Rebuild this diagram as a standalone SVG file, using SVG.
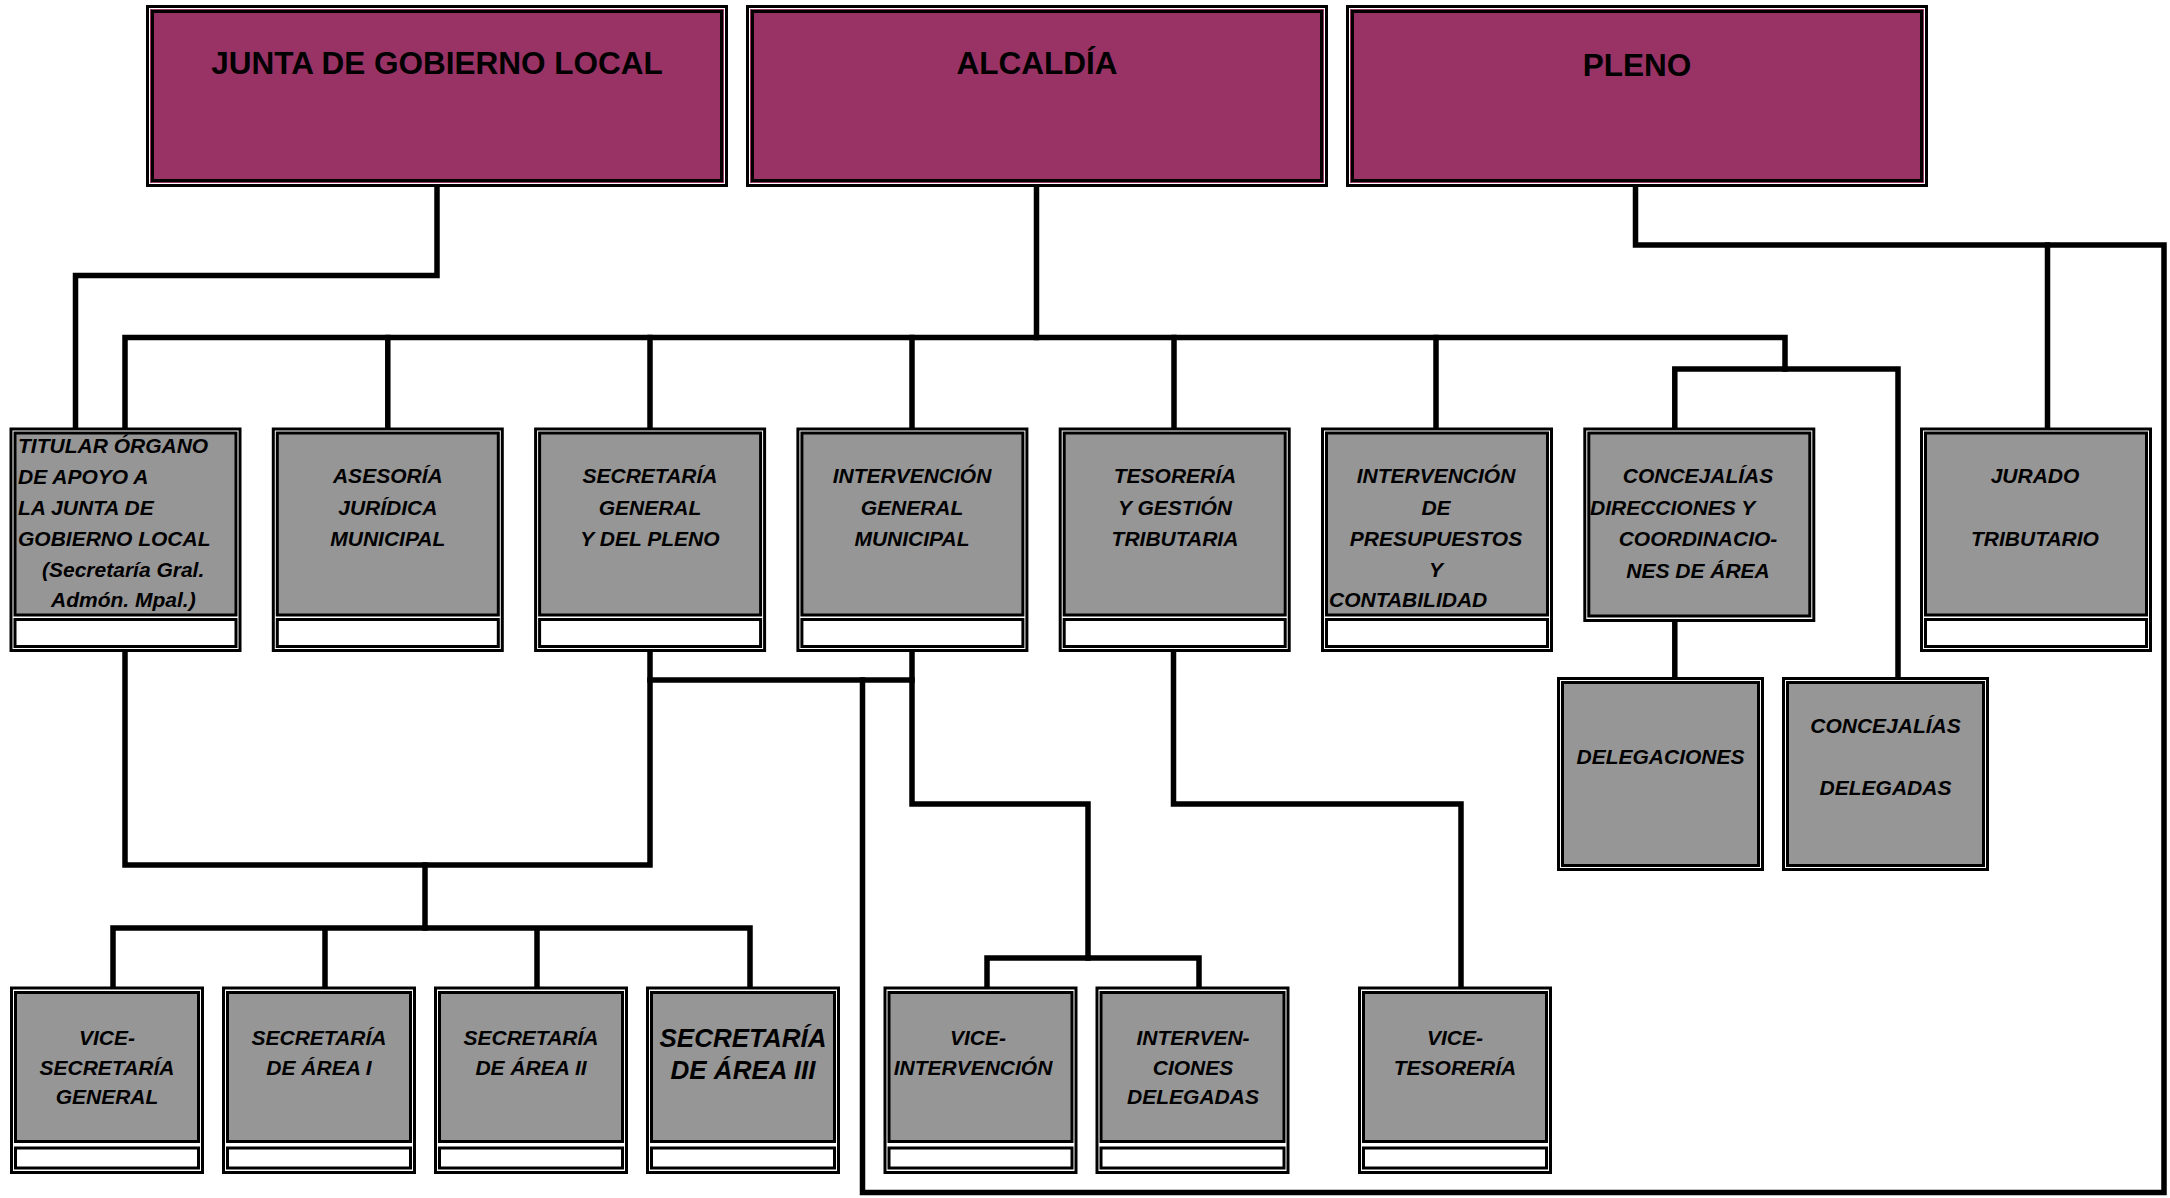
<svg xmlns="http://www.w3.org/2000/svg" width="2170" height="1198" viewBox="0 0 2170 1198">
<style>
.bg{fill:#fff}
.c{fill:none;stroke:#000;stroke-width:5.5;stroke-linecap:square;stroke-linejoin:miter}
.po{fill:#993366;stroke:#000;stroke-width:3}
.pw{fill:none;stroke:#fff;stroke-width:1}
.o{fill:#fff;stroke:#000;stroke-width:3}
.g{fill:#969696;stroke:#000;stroke-width:3}
.s{fill:#fff;stroke:#000;stroke-width:3}
.h{font-family:"Liberation Sans",Arial,sans-serif;font-weight:bold;font-size:31.5px;fill:#000;text-anchor:middle}
.t{font-family:"Liberation Sans",Arial,sans-serif;font-weight:bold;font-style:italic;font-size:21px;fill:#000;text-anchor:middle}
.l{text-anchor:start}
.big{font-size:26px}
</style>
<rect class="bg" x="0" y="0" width="2170" height="1198"/>

<g id="connectors">
<path class="c" d="M437,187 V275.5 H75.5 V428"/>
<path class="c" d="M1036.5,187 V337.5"/>
<path class="c" d="M125,428 V337.5 H1785 V369"/>
<path class="c" d="M387.8,337.5 V428 M650,337.5 V428 M912,337.5 V428 M1174,337.5 V428 M1436,337.5 V428"/>
<path class="c" d="M1674.8,428 V369 H1898 V677"/>
<path class="c" d="M1674.8,622 V677"/>
<path class="c" d="M1635.5,187 V245 H2164 V1192.5 H862.5 V680"/>
<path class="c" d="M2047.5,245 V428"/>
<path class="c" d="M125,652 V865 H650 V652"/>
<path class="c" d="M425,865 V928"/>
<path class="c" d="M113,986.5 V928 H750 V986.5 M325,928 V986.5 M537,928 V986.5"/>
<path class="c" d="M650,680 H912"/>
<path class="c" d="M912,652 V804 H1088 V958"/>
<path class="c" d="M987,986.5 V958 H1199 V986.5"/>
<path class="c" d="M1173.5,652 V804 H1461 V986.5"/>
</g>

<g id="n-junta">
<rect class="po" x="147.5" y="6.5" width="579" height="179"/>
<rect class="pw" x="149.5" y="8.5" width="575" height="175"/>
<rect class="po" x="152.5" y="11.5" width="569" height="169"/>
<text class="h" x="437" y="74">JUNTA DE GOBIERNO LOCAL</text>
</g>
<g id="n-alcaldia">
<rect class="po" x="747.5" y="6.5" width="579" height="179"/>
<rect class="pw" x="749.5" y="8.5" width="575" height="175"/>
<rect class="po" x="752.5" y="11.5" width="569" height="169"/>
<text class="h" x="1037" y="74">ALCALDÍA</text>
</g>
<g id="n-pleno">
<rect class="po" x="1347.5" y="6.5" width="579" height="179"/>
<rect class="pw" x="1349.5" y="8.5" width="575" height="175"/>
<rect class="po" x="1352.5" y="11.5" width="569" height="169"/>
<text class="h" x="1637" y="76">PLENO</text>
</g>

<g id="n-titular">
<rect class="o" x="11" y="429" width="229" height="221.5"/>
<rect class="g" x="15" y="433" width="221" height="182"/>
<rect class="s" x="15" y="619.5" width="221" height="27"/>
<text class="t l" x="18" y="453">TITULAR ÓRGANO</text>
<text class="t l" x="18" y="484">DE APOYO A</text>
<text class="t l" x="18" y="515">LA JUNTA DE</text>
<text class="t l" x="18" y="546">GOBIERNO LOCAL</text>
<text class="t l" x="42" y="577">(Secretaría Gral.</text>
<text class="t l" x="51" y="607">Admón. Mpal.)</text>
</g>
<g id="n-asesoria">
<rect class="o" x="273.3" y="429" width="229" height="221.5"/>
<rect class="g" x="277.3" y="433" width="221" height="182"/>
<rect class="s" x="277.3" y="619.5" width="221" height="27"/>
<text class="t" x="387.8" y="483">ASESORÍA</text>
<text class="t" x="387.8" y="515">JURÍDICA</text>
<text class="t" x="387.8" y="546">MUNICIPAL</text>
</g>
<g id="n-secretaria">
<rect class="o" x="535.6" y="429" width="229" height="221.5"/>
<rect class="g" x="539.6" y="433" width="221" height="182"/>
<rect class="s" x="539.6" y="619.5" width="221" height="27"/>
<text class="t" x="650" y="483">SECRETARÍA</text>
<text class="t" x="650" y="515">GENERAL</text>
<text class="t" x="650" y="546">Y DEL PLENO</text>
</g>
<g id="n-intervencion">
<rect class="o" x="797.9" y="429" width="229" height="221.5"/>
<rect class="g" x="801.9" y="433" width="221" height="182"/>
<rect class="s" x="801.9" y="619.5" width="221" height="27"/>
<text class="t" x="912" y="483">INTERVENCIÓN</text>
<text class="t" x="912" y="515">GENERAL</text>
<text class="t" x="912" y="546">MUNICIPAL</text>
</g>
<g id="n-tesoreria">
<rect class="o" x="1060.2" y="429" width="229" height="221.5"/>
<rect class="g" x="1064.2" y="433" width="221" height="182"/>
<rect class="s" x="1064.2" y="619.5" width="221" height="27"/>
<text class="t" x="1175" y="483">TESORERÍA</text>
<text class="t" x="1175" y="515">Y GESTIÓN</text>
<text class="t" x="1175" y="546">TRIBUTARIA</text>
</g>
<g id="n-presupuestos">
<rect class="o" x="1322.5" y="429" width="229" height="221.5"/>
<rect class="g" x="1326.5" y="433" width="221" height="182"/>
<rect class="s" x="1326.5" y="619.5" width="221" height="27"/>
<text class="t" x="1436" y="483">INTERVENCIÓN</text>
<text class="t" x="1436" y="515">DE</text>
<text class="t" x="1436" y="546">PRESUPUESTOS</text>
<text class="t" x="1436" y="577">Y</text>
<text class="t l" x="1329" y="607">CONTABILIDAD</text>
</g>
<g id="n-concejalias">
<rect class="o" x="1584.8" y="429" width="229" height="191.5"/>
<rect class="g" x="1588.8" y="433" width="221" height="183"/>
<text class="t" x="1698" y="483">CONCEJALÍAS</text>
<text class="t l" x="1590" y="515">DIRECCIONES Y</text>
<text class="t" x="1698" y="546">COORDINACIO-</text>
<text class="t" x="1698" y="578">NES DE ÁREA</text>
</g>
<g id="n-jurado">
<rect class="o" x="1921.5" y="429" width="229" height="221.5"/>
<rect class="g" x="1925.5" y="433" width="221" height="182"/>
<rect class="s" x="1925.5" y="619.5" width="221" height="27"/>
<text class="t" x="2035" y="483">JURADO</text>
<text class="t" x="2035" y="546">TRIBUTARIO</text>
</g>

<g id="n-delegaciones">
<rect class="o" x="1558.5" y="678.5" width="204" height="191"/>
<rect class="g" x="1562.5" y="682.5" width="196" height="183"/>
<text class="t" x="1660.5" y="764">DELEGACIONES</text>
</g>
<g id="n-delegadas">
<rect class="o" x="1783.5" y="678.5" width="204" height="191"/>
<rect class="g" x="1787.5" y="682.5" width="196" height="183"/>
<text class="t" x="1885.5" y="733">CONCEJALÍAS</text>
<text class="t" x="1885.5" y="795">DELEGADAS</text>
</g>

<g id="n-vicesecretaria">
<rect class="o" x="11.5" y="988" width="191" height="184.5"/>
<rect class="g" x="15.5" y="992.5" width="183" height="149"/>
<rect class="s" x="15.5" y="1148" width="183" height="20"/>
<text class="t" x="107" y="1045">VICE-</text>
<text class="t" x="107" y="1075">SECRETARÍA</text>
<text class="t" x="107" y="1104">GENERAL</text>
</g>
<g id="n-area1">
<rect class="o" x="223.5" y="988" width="191" height="184.5"/>
<rect class="g" x="227.5" y="992.5" width="183" height="149"/>
<rect class="s" x="227.5" y="1148" width="183" height="20"/>
<text class="t" x="319" y="1045">SECRETARÍA</text>
<text class="t" x="319" y="1075">DE ÁREA I</text>
</g>
<g id="n-area2">
<rect class="o" x="435.5" y="988" width="191" height="184.5"/>
<rect class="g" x="439.5" y="992.5" width="183" height="149"/>
<rect class="s" x="439.5" y="1148" width="183" height="20"/>
<text class="t" x="531" y="1045">SECRETARÍA</text>
<text class="t" x="531" y="1075">DE ÁREA II</text>
</g>
<g id="n-area3">
<rect class="o" x="647.5" y="988" width="191" height="184.5"/>
<rect class="g" x="651.5" y="992.5" width="183" height="149"/>
<rect class="s" x="651.5" y="1148" width="183" height="20"/>
<text class="t big" x="743" y="1047">SECRETARÍA</text>
<text class="t big" x="743" y="1079">DE ÁREA III</text>
</g>
<g id="n-viceintervencion">
<rect class="o" x="885" y="988" width="191" height="184.5"/>
<rect class="g" x="889" y="992.5" width="183" height="149"/>
<rect class="s" x="889" y="1148" width="183" height="20"/>
<text class="t" x="978" y="1045">VICE-</text>
<text class="t" x="973" y="1075">INTERVENCIÓN</text>
</g>
<g id="n-intervenciones">
<rect class="o" x="1097" y="988" width="191" height="184.5"/>
<rect class="g" x="1101" y="992.5" width="183" height="149"/>
<rect class="s" x="1101" y="1148" width="183" height="20"/>
<text class="t" x="1193" y="1045">INTERVEN-</text>
<text class="t" x="1193" y="1075">CIONES</text>
<text class="t" x="1193" y="1104">DELEGADAS</text>
</g>
<g id="n-vicetesoreria">
<rect class="o" x="1359.5" y="988" width="191" height="184.5"/>
<rect class="g" x="1363.5" y="992.5" width="183" height="149"/>
<rect class="s" x="1363.5" y="1148" width="183" height="20"/>
<text class="t" x="1455" y="1045">VICE-</text>
<text class="t" x="1455" y="1075">TESORERÍA</text>
</g>
</svg>
